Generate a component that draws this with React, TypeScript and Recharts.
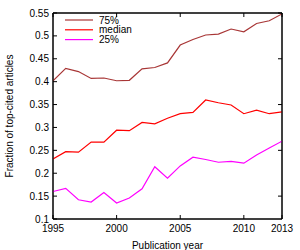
import React from "react";
import { LineChart, Line, XAxis, YAxis, ReferenceArea } from "recharts";

const years = [1995, 1996, 1997, 1998, 1999, 2000, 2001, 2002, 2003, 2004, 2005, 2006, 2007, 2008, 2009, 2010, 2011, 2012, 2013];
const q75 = [0.402, 0.429, 0.422, 0.407, 0.408, 0.402, 0.403, 0.428, 0.431, 0.441, 0.48, 0.492, 0.502, 0.504, 0.515, 0.509, 0.527, 0.533, 0.548];
const median = [0.231, 0.247, 0.246, 0.268, 0.268, 0.294, 0.293, 0.311, 0.308, 0.32, 0.33, 0.333, 0.36, 0.354, 0.349, 0.33, 0.338, 0.33, 0.334];
const q25 = [0.16, 0.167, 0.142, 0.137, 0.158, 0.135, 0.146, 0.166, 0.214, 0.189, 0.216, 0.235, 0.23, 0.224, 0.226, 0.222, 0.24, 0.255, 0.27];

const xTicks = [1995, 2000, 2005, 2010, 2013];
const yTicks = [0.1, 0.15, 0.2, 0.25, 0.3, 0.35, 0.4, 0.45, 0.5, 0.55];

const series = [
  { key: "q75", name: "75%", color: "#a83636" },
  { key: "median", name: "median", color: "#ff0000" },
  { key: "q25", name: "25%", color: "#ff00ff" },
];

const data = years.map((year, i) => ({ year, q75: q75[i], median: median[i], q25: q25[i] }));

const FONT = "'Liberation Sans', Arial, sans-serif";
const tickStyle = { fill: "#000", fontSize: 10, fontFamily: FONT };

// legend drawn as an overlay in the top-left corner of the plot
const LegendBox = () => (
  <svg width={80} height={32} style={{ position: "absolute", left: 65, top: 15 }}>
    {series.map((s, i) => (
      <g key={s.key}>
        <line x1={0} x2={28} y1={5 + i * 9.8} y2={5 + i * 9.8} stroke={s.color} strokeWidth={1.2} />
        <text x={34} y={5 + i * 9.8} dy="0.35em" fontSize={10} fontFamily={FONT} fill="#000">
          {s.name}
        </text>
      </g>
    ))}
  </svg>
);

const NoLabel = () => <g />;

export default function App() {
  return (
    <div style={{ position: "absolute", left: 0, top: 0, width: 300, height: 250, background: "#fff" }}>
      <LineChart width={300} height={250} data={data} margin={{ top: 11, right: 0, bottom: 0, left: 0 }}>
        <XAxis
          dataKey="year"
          type="number"
          domain={[1995, 2013]}
          ticks={xTicks}
          allowDataOverflow
          stroke="#000"
          tickSize={-4}
          tickMargin={10}
          tick={tickStyle}
          height={31}
          label={{ value: "Publication year", position: "insideBottom", offset: 1, style: tickStyle }}
        />
        <XAxis
          xAxisId="top"
          orientation="top"
          dataKey="year"
          type="number"
          domain={[1995, 2013]}
          ticks={xTicks}
          allowDataOverflow
          stroke="#000"
          tickSize={-4}
          tick={NoLabel}
          height={2}
        />
        <YAxis
          type="number"
          domain={[0.1, 0.55]}
          ticks={yTicks}
          allowDataOverflow
          stroke="#000"
          tickSize={-4}
          tickMargin={8}
          tick={tickStyle}
          width={53}
          label={{ value: "Fraction of top-cited articles", angle: -90, position: "insideLeft", offset: 9, style: { ...tickStyle, textAnchor: "middle" } }}
        />
        <YAxis
          yAxisId="right"
          orientation="right"
          type="number"
          domain={[0.1, 0.55]}
          ticks={yTicks}
          allowDataOverflow
          stroke="#000"
          tickSize={-4}
          tick={NoLabel}
          width={18}
        />
        <ReferenceArea x1={1995} x2={2013} y1={0.1} y2={0.55} fill="none" stroke="#000" strokeWidth={1} ifOverflow="visible" />
        {series.map((s) => (
          <Line
            key={s.key}
            dataKey={s.key}
            name={s.name}
            stroke={s.color}
            strokeWidth={1.2}
            dot={false}
            isAnimationActive={false}
          />
        ))}
        {/* invisible copy so the mirrored frame axes get drawn */}
        <Line xAxisId="top" yAxisId="right" dataKey="q75" stroke="none" dot={false} activeDot={false} isAnimationActive={false} />
      </LineChart>
      <LegendBox />
    </div>
  );
}
